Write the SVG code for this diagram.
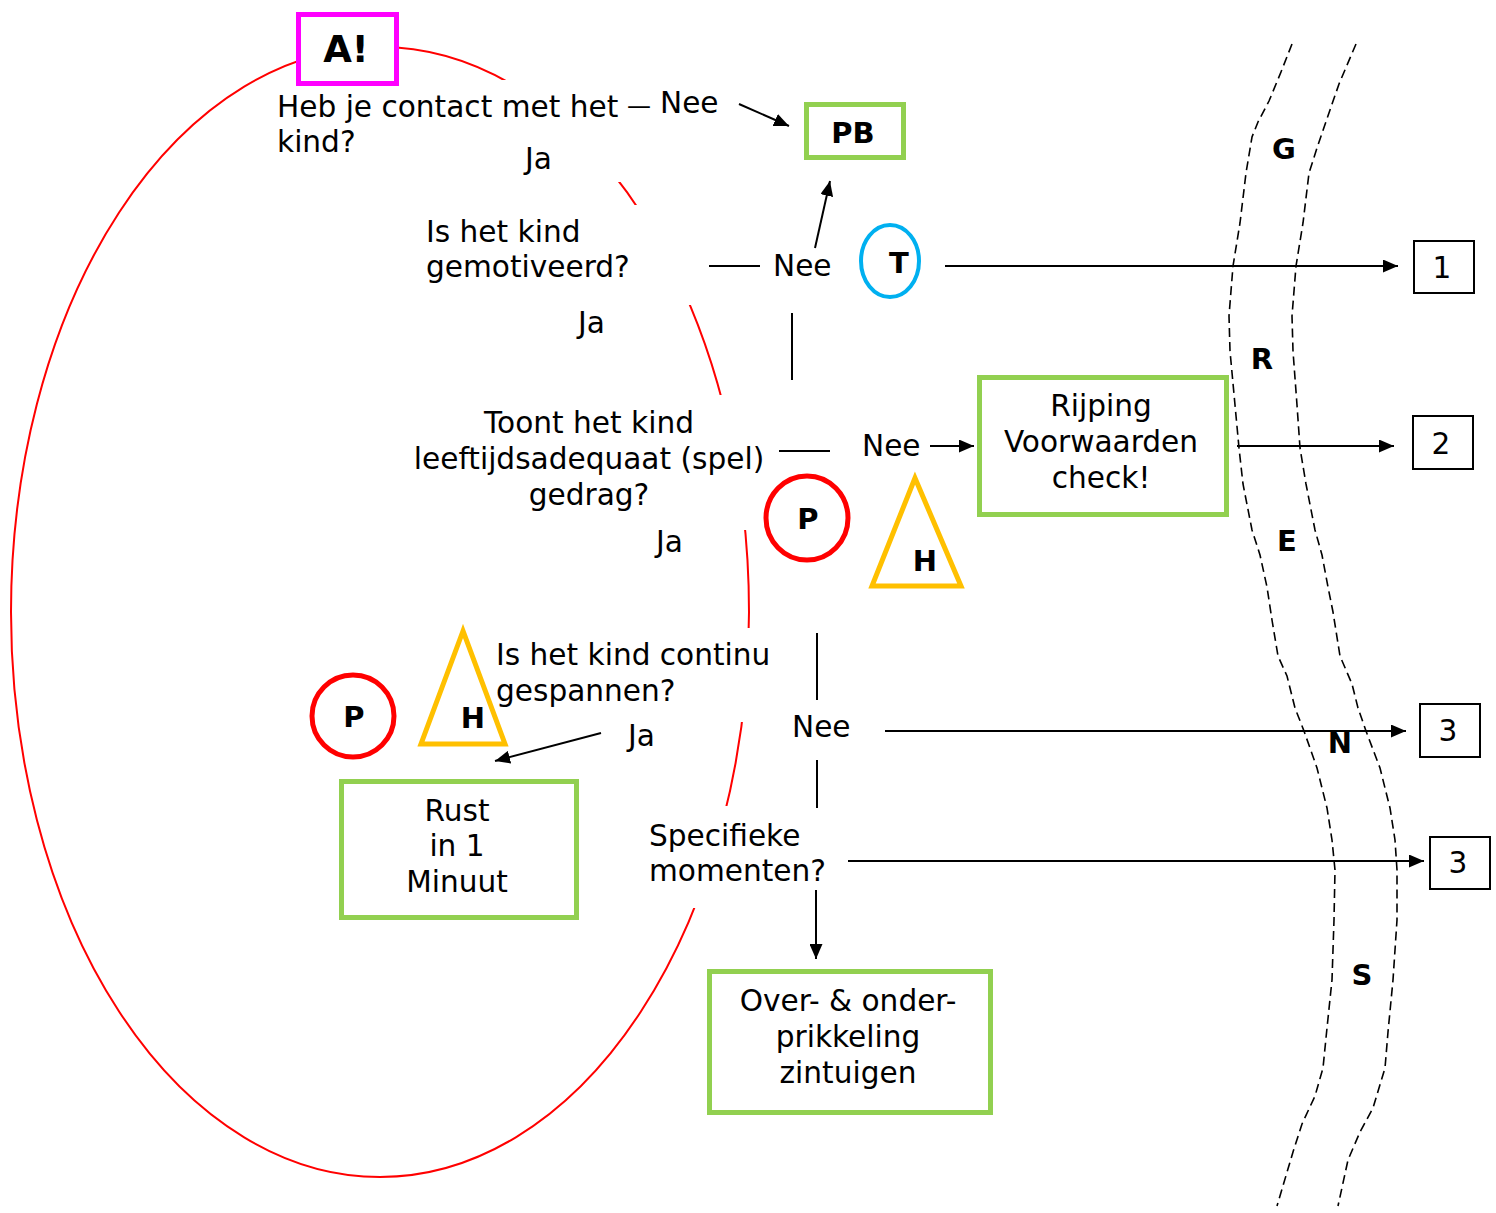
<svg xmlns="http://www.w3.org/2000/svg" width="1496" height="1213" viewBox="0 0 1496 1213">
  <defs>
    <marker id="arrow" markerUnits="userSpaceOnUse" markerWidth="16" markerHeight="13" refX="15" refY="6.5" orient="auto">
      <path d="M0,0 L15,6.5 L0,13 z" fill="#000"/>
    </marker>
    <style>
      text { font-family: "DejaVu Sans", Verdana, sans-serif; font-size: 29.6px; fill: #000; }
      .b { font-weight: bold; font-size: 29px; }
      .mid { text-anchor: middle; }
      .mask { fill: #fff; stroke: none; }
      .green { fill: #fff; stroke: #92D050; stroke-width: 5; }
      .pcirc { fill: #fff; stroke: #FF0000; stroke-width: 5; }
      .tri { fill: none; stroke: #FFC000; stroke-width: 5; stroke-linejoin: miter; }
      .num { fill: #fff; stroke: #000; stroke-width: 2; }
      .conn line, .conn path { stroke: #000; stroke-width: 2; fill: none; }
      .arr { marker-end: url(#arrow); }
      .zone { fill: none; stroke: #000; stroke-width: 1.6; stroke-dasharray: 9 5; }
    </style>
  </defs>

  <rect width="1496" height="1213" fill="#fff"/>

  <!-- large red ellipse around the decision flow -->
  <ellipse id="cycle" cx="380" cy="612" rx="369" ry="565" fill="none" stroke="#FF0000" stroke-width="2"/>
  <!-- opaque backgrounds of the question text boxes -->
  <g id="text-backgrounds">
    <rect class="mask" x="420" y="80" width="280" height="102"/>
    <rect class="mask" x="560" y="205" width="140" height="100"/>
    <rect class="mask" x="600" y="395" width="160" height="135"/>
    <rect class="mask" x="700" y="628" width="60" height="94"/>
    <rect class="mask" x="640" y="806" width="120" height="102"/>
  </g>

  <!-- dashed zone boundaries -->
  <g id="zones">
    <path class="zone" d="M1292,44 L1281,72 L1269,101 L1258,122 L1252,137 L1246,173 L1240,223 L1233,266 L1229,316 L1230,351 L1235,405 L1239,448 L1243,484 L1252,530 L1260,555 L1267,587 L1272,620 L1278,656 L1287,676 L1295,708 L1304,731 L1317,768 L1327,808 L1332,840 L1335,870 L1334,920 L1332,980 L1327,1028 L1323,1068 L1315,1096 L1302,1124 L1293,1152 L1277,1206"/>
    <path class="zone" d="M1356,44 L1339,84 L1330,110 L1317,148 L1309,173 L1303,223 L1296,266 L1292,316 L1293,351 L1297,405 L1300,448 L1306,484 L1315,530 L1322,555 L1328,587 L1333,612 L1340,656 L1352,684 L1358,708 L1366,731 L1380,768 L1390,808 L1395,840 L1397,870 L1397,920 L1393,980 L1388,1032 L1385,1068 L1373,1108 L1360,1132 L1348,1160 L1338,1206"/>
    <text class="b mid" x="1284" y="159">G</text>
    <text class="b mid" x="1262" y="369">R</text>
    <text class="b mid" x="1287" y="551">E</text>
    <text class="b mid" x="1340" y="753">N</text>
    <text class="b mid" x="1362" y="985">S</text>
  </g>

  <!-- connectors -->
  <g id="connectors" class="conn">
    <line class="arr" x1="739" y1="104" x2="789" y2="126"/>
    <line class="arr" x1="815" y1="248" x2="830" y2="181"/>
    <line x1="709" y1="266" x2="760" y2="266"/>
    <line class="arr" x1="945" y1="266" x2="1398" y2="266"/>
    <line x1="792" y1="313" x2="792" y2="380"/>
    <line x1="779" y1="451" x2="830" y2="451"/>
    <line class="arr" x1="930" y1="446" x2="974" y2="446"/>
    <line class="arr" x1="1237" y1="446" x2="1394" y2="446"/>
    <line x1="817" y1="633" x2="817" y2="700"/>
    <line class="arr" x1="601" y1="733" x2="495" y2="761"/>
    <line class="arr" x1="885" y1="731" x2="1406" y2="731"/>
    <line x1="817" y1="760" x2="817" y2="808"/>
    <line class="arr" x1="848" y1="861" x2="1424" y2="861"/>
    <line class="arr" x1="816" y1="890" x2="816" y2="959"/>
  </g>

  <!-- questions and answers -->
  <g id="q-contact">
    <text x="277" y="117">Heb je contact met het</text>
    <text x="277" y="152">kind?</text>
    <text x="627" y="114" style="font-size:24px">—</text>
    <text x="660" y="113">Nee</text>
    <text x="525" y="169">Ja</text>
  </g>
  <g id="q-motivated">
    <text x="426" y="242">Is het kind</text>
    <text x="426" y="277">gemotiveerd?</text>
    <text x="773" y="276">Nee</text>
    <text x="578" y="333">Ja</text>
  </g>
  <g id="q-age">
    <text class="mid" x="589" y="433">Toont het kind</text>
    <text class="mid" x="589" y="469">leeftijdsadequaat (spel)</text>
    <text class="mid" x="589" y="505">gedrag?</text>
    <text x="862" y="456">Nee</text>
    <text x="656" y="552">Ja</text>
  </g>
  <g id="q-tense">
    <text x="496" y="665">Is het kind continu</text>
    <text x="496" y="701">gespannen?</text>
    <text x="628" y="746">Ja</text>
    <text x="792" y="737">Nee</text>
  </g>
  <g id="q-moments">
    <text x="649" y="846">Specifieke</text>
    <text x="649" y="881">momenten?</text>
  </g>

  <!-- nodes -->
  <g id="node-alert">
    <rect x="298.5" y="14.5" width="98" height="69" fill="#fff" stroke="#FF00FF" stroke-width="5"/>
    <text class="b mid" x="346" y="62" style="font-size:37px">A!</text>
  </g>
  <g id="node-pb">
    <rect class="green" x="806.5" y="104.5" width="97" height="53"/>
    <text class="b mid" x="853" y="143">PB</text>
  </g>
  <g id="node-t">
    <ellipse cx="890" cy="261" rx="29" ry="36" fill="#fff" stroke="#00B0F0" stroke-width="4"/>
    <text class="b mid" x="899" y="273">T</text>
  </g>
  <g id="node-rijping">
    <rect class="green" x="979.5" y="377.5" width="247" height="137"/>
    <text class="mid" x="1101" y="416">Rijping</text>
    <text class="mid" x="1101" y="452">Voorwaarden</text>
    <text class="mid" x="1101" y="488">check!</text>
  </g>
  <g id="node-p1">
    <ellipse class="pcirc" cx="807" cy="518" rx="41" ry="42"/>
    <text class="b mid" x="808" y="529">P</text>
  </g>
  <g id="node-h1">
    <polygon class="tri" points="915,478 872,586 961,586"/>
    <text class="b mid" x="925" y="571">H</text>
  </g>
  <g id="node-p2">
    <ellipse class="pcirc" cx="353" cy="716" rx="41" ry="41"/>
    <text class="b mid" x="354" y="727">P</text>
  </g>
  <g id="node-h2">
    <polygon class="tri" points="463,631 421,744 505,744"/>
    <text class="b mid" x="473" y="728">H</text>
  </g>
  <g id="node-rust">
    <rect class="green" x="341.5" y="781.5" width="235" height="136"/>
    <text class="mid" x="457" y="821">Rust</text>
    <text class="mid" x="457" y="856">in 1</text>
    <text class="mid" x="457" y="892">Minuut</text>
  </g>
  <g id="node-prikkeling">
    <rect class="green" x="709.5" y="971.5" width="281" height="141"/>
    <text class="mid" x="848" y="1011">Over- &amp; onder-</text>
    <text class="mid" x="848" y="1047">prikkeling</text>
    <text class="mid" x="848" y="1083">zintuigen</text>
  </g>
  <g id="node-1">
    <rect class="num" x="1414" y="241" width="60" height="52"/>
    <text class="mid" x="1442" y="278">1</text>
  </g>
  <g id="node-2">
    <rect class="num" x="1413" y="416" width="60" height="53"/>
    <text class="mid" x="1441" y="454">2</text>
  </g>
  <g id="node-3a">
    <rect class="num" x="1420" y="704" width="60" height="53"/>
    <text class="mid" x="1448" y="741">3</text>
  </g>
  <g id="node-3b">
    <rect class="num" x="1430" y="837" width="60" height="52"/>
    <text class="mid" x="1458" y="873">3</text>
  </g>
</svg>
